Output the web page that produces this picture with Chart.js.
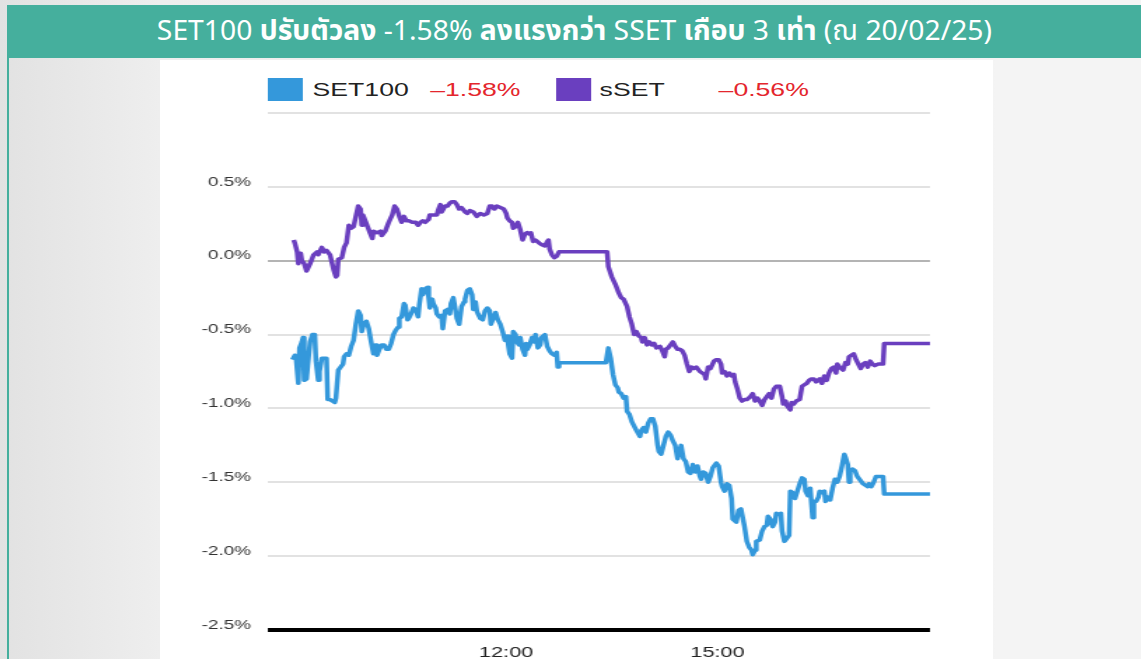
<!DOCTYPE html>
<html>
<head>
<meta charset="utf-8">
<script src="https://cdn.jsdelivr.net/npm/chart.js@4.4.1/dist/chart.umd.min.js"></script>
<style>
  html, body { margin: 0; padding: 0; }
  body {
    width: 1141px; height: 659px; overflow: hidden; position: relative;
    background: linear-gradient(to right, #e2e2e2 0px, #eeeeee 160px, #f4f4f4 1000px);
    font-family: "Liberation Sans", Arial, sans-serif;
  }
  #edge { position: absolute; left: 7px; top: 5px; width: 2px; height: 654px; background: #45af9d; }
  #title {
    position: absolute; left: 8px; top: 5px; width: 1133px; height: 53px;
    background: #45af9d; color: #fff; font-size: 28px; line-height: 53px;
    text-align: center; white-space: nowrap;
    font-family: "Noto Sans Thai", "Liberation Sans Narrow", "Noto Sans", sans-serif;
  }
  #title span { display: inline-block; transform: scaleX(1.01); }
  #panel {
    position: absolute; left: 160px; top: 60px; width: 595px; height: 599px;
    background: #fff; transform: scaleX(1.4); transform-origin: 0 0;
  }
  #chart { position: absolute; left: 0; top: 0; }
  .box { position: absolute; top: 18px; width: 25px; height: 23px; }
  .lbl { position: absolute; top: 21px; font-size: 19px; line-height: 18px; color: #222; white-space: nowrap; }
  .chg { color: #e4262d; }
</style>
</head>
<body>
<div id="edge"></div>
<div id="title"><span>SET100 <b>ปรับตัวลง</b> -1.58% <b>ลงแรงกว่า</b> SSET <b>เกือบ</b> 3 <b>เท่า</b> (ณ 20/02/25)</span></div>
<div id="panel">
  <div class="box" style="left:77px;background:#3498db"></div>
  <div class="lbl" style="left:109px">SET100</div>
  <div class="lbl chg" style="left:193px">–1.58%</div>
  <div class="box" style="left:283px;background:#6a3fbf"></div>
  <div class="lbl" style="left:314px">sSET</div>
  <div class="lbl chg" style="left:399px">–0.56%</div>
  <canvas id="chart" width="595" height="599"></canvas>
</div>
<script>
// x = minutes on the (compressed) session clock, y = % change
const timeTicks = [720, 900];

const setTime = [538, 540, 541, 543, 544, 546, 547, 548, 550, 551, 553, 555, 557, 558, 560, 561, 563, 567, 568, 570,
  572, 574, 575, 577, 579, 581, 582, 584, 586, 588, 590, 592, 594, 596, 597, 599, 600, 601, 603, 605,
  607, 609, 610, 612, 614, 616, 618, 620, 622, 624, 626, 628, 629, 631, 633, 634, 636, 637, 639, 641,
  643, 645, 646, 648, 649, 651, 653, 654, 655, 657, 658, 660, 661, 663, 665, 666, 668, 670, 672, 673,
  675, 677, 678, 680, 682, 684, 685, 687, 689, 691, 692, 694, 695, 696, 698, 700, 702, 704, 706, 707,
  709, 711, 713, 715, 717, 719, 721, 722, 723, 725, 726, 728, 729, 731, 732, 734, 736, 737, 738, 740,
  742, 744, 745, 747, 749, 750, 753, 755, 757, 759, 761, 763, 764, 765, 805, 807, 809, 811, 813, 815,
  816, 818, 820, 822, 823, 825, 827, 829, 831, 834, 835, 837, 839, 841, 843, 845, 847, 849, 850, 852,
  854, 856, 858, 860, 862, 864, 866, 867, 869, 871, 873, 875, 877, 879, 881, 883, 885, 886, 888, 890,
  892, 894, 896, 899, 901, 903, 904, 906, 908, 910, 912, 913, 916, 918, 920, 921, 923, 925, 927, 929,
  930, 932, 933, 936, 938, 940, 942, 943, 945, 947, 949, 950, 953, 954, 955, 957, 959, 961, 962, 964,
  966, 968, 970, 972, 974, 975, 977, 979, 981, 982, 984, 986, 987, 989, 991, 992, 994, 996, 998, 1000,
  1002, 1004, 1006, 1008, 1009, 1011, 1012, 1013, 1015, 1017, 1019, 1021, 1024, 1026, 1028, 1029, 1031, 1033, 1035, 1041,
  1042, 1081];
const setPct = [-0.67, -0.64, -0.65, -0.83, -0.59, -0.55, -0.52, -0.81, -0.80, -0.71, -0.55, -0.50, -0.50, -0.68, -0.81, -0.75, -0.66, -0.66, -0.94, -0.94,
  -0.95, -0.96, -0.93, -0.74, -0.72, -0.70, -0.65, -0.63, -0.64, -0.58, -0.54, -0.43, -0.34, -0.37, -0.48, -0.42, -0.43, -0.41, -0.46, -0.55,
  -0.63, -0.57, -0.64, -0.60, -0.57, -0.57, -0.60, -0.60, -0.56, -0.50, -0.47, -0.45, -0.39, -0.38, -0.29, -0.30, -0.40, -0.39, -0.36, -0.32,
  -0.33, -0.38, -0.30, -0.19, -0.23, -0.19, -0.18, -0.25, -0.32, -0.26, -0.29, -0.32, -0.36, -0.38, -0.37, -0.46, -0.34, -0.33, -0.36, -0.29,
  -0.25, -0.34, -0.39, -0.43, -0.31, -0.28, -0.26, -0.20, -0.19, -0.23, -0.33, -0.28, -0.34, -0.36, -0.39, -0.40, -0.34, -0.32, -0.34, -0.43,
  -0.39, -0.35, -0.40, -0.43, -0.48, -0.54, -0.51, -0.58, -0.63, -0.66, -0.48, -0.50, -0.55, -0.57, -0.52, -0.60, -0.64, -0.56, -0.60, -0.57,
  -0.52, -0.55, -0.50, -0.59, -0.57, -0.52, -0.50, -0.58, -0.61, -0.63, -0.64, -0.62, -0.72, -0.69, -0.69, -0.59, -0.66, -0.77, -0.84, -0.86,
  -0.89, -0.90, -0.93, -0.92, -1.02, -1.04, -1.09, -1.12, -1.15, -1.19, -1.15, -1.13, -1.16, -1.10, -1.07, -1.07, -1.12, -1.25, -1.29, -1.31,
  -1.25, -1.19, -1.16, -1.18, -1.22, -1.25, -1.34, -1.31, -1.25, -1.34, -1.36, -1.43, -1.44, -1.38, -1.43, -1.39, -1.46, -1.48, -1.43, -1.44,
  -1.50, -1.46, -1.40, -1.37, -1.39, -1.50, -1.53, -1.56, -1.51, -1.52, -1.61, -1.75, -1.77, -1.69, -1.68, -1.72, -1.80, -1.90, -1.94, -1.96,
  -1.99, -1.96, -1.90, -1.89, -1.83, -1.80, -1.79, -1.73, -1.75, -1.80, -1.77, -1.71, -1.72, -1.71, -1.83, -1.90, -1.88, -1.86, -1.56, -1.57,
  -1.61, -1.56, -1.51, -1.47, -1.48, -1.56, -1.59, -1.54, -1.74, -1.63, -1.63, -1.60, -1.56, -1.57, -1.56, -1.63, -1.60, -1.62, -1.54, -1.48,
  -1.50, -1.46, -1.39, -1.31, -1.33, -1.38, -1.50, -1.43, -1.41, -1.42, -1.46, -1.48, -1.51, -1.52, -1.53, -1.51, -1.53, -1.50, -1.46, -1.46,
  -1.58, -1.58];

const ssetTime = [539, 540, 542, 543, 545, 546, 548, 550, 553, 556, 559, 560, 563, 565, 567, 570, 573, 575, 576, 577,
  580, 582, 584, 586, 588, 590, 592, 594, 596, 597, 598, 600, 602, 604, 606, 607, 610, 613, 614, 617,
  620, 623, 625, 627, 629, 631, 633, 635, 637, 640, 643, 645, 647, 649, 651, 654, 655, 658, 661, 662,
  664, 665, 668, 670, 672, 674, 676, 678, 680, 682, 685, 687, 689, 692, 695, 698, 701, 704, 706, 708,
  710, 712, 715, 718, 720, 721, 723, 725, 726, 728, 730, 732, 734, 736, 738, 740, 741, 743, 745, 748,
  750, 753, 755, 756, 757, 759, 761, 763, 765, 806, 807, 810, 813, 816, 818, 820, 823, 825, 827, 829,
  831, 833, 835, 836, 838, 840, 842, 844, 846, 848, 851, 853, 855, 856, 858, 860, 862, 864, 866, 868,
  870, 872, 874, 876, 878, 880, 882, 885, 887, 889, 890, 892, 894, 897, 899, 901, 903, 904, 906, 908,
  910, 912, 914, 915, 917, 919, 921, 923, 925, 928, 930, 932, 934, 936, 938, 940, 942, 944, 946, 948,
  950, 953, 955, 956, 958, 959, 962, 963, 965, 967, 970, 972, 974, 976, 978, 980, 982, 984, 987, 989,
  991, 993, 995, 997, 999, 1001, 1002, 1004, 1007, 1009, 1011, 1012, 1014, 1016, 1018, 1020, 1022, 1024, 1026, 1028,
  1030, 1032, 1034, 1037, 1041, 1042, 1081];
const ssetPct = [0.14, 0.12, 0.06, -0.02, 0.05, 0.00, -0.02, -0.07, -0.02, 0.04, 0.06, 0.04, 0.09, 0.06, 0.07, 0.04, -0.06, -0.11, -0.10, 0.01,
  0.02, 0.09, 0.12, 0.24, 0.22, 0.23, 0.30, 0.37, 0.35, 0.24, 0.31, 0.27, 0.23, 0.19, 0.15, 0.20, 0.19, 0.20, 0.17, 0.20,
  0.26, 0.31, 0.37, 0.35, 0.30, 0.26, 0.30, 0.27, 0.27, 0.26, 0.26, 0.24, 0.26, 0.27, 0.26, 0.28, 0.31, 0.31, 0.31, 0.34,
  0.38, 0.33, 0.37, 0.37, 0.39, 0.40, 0.40, 0.38, 0.35, 0.36, 0.33, 0.32, 0.34, 0.33, 0.30, 0.32, 0.31, 0.32, 0.37, 0.37,
  0.35, 0.37, 0.36, 0.35, 0.32, 0.29, 0.27, 0.26, 0.22, 0.23, 0.26, 0.21, 0.14, 0.18, 0.19, 0.18, 0.19, 0.13, 0.14, 0.12,
  0.11, 0.10, 0.13, 0.14, 0.08, 0.04, 0.02, 0.03, 0.06, 0.06, -0.04, -0.11, -0.16, -0.22, -0.25, -0.26, -0.31, -0.38, -0.43, -0.50,
  -0.48, -0.51, -0.52, -0.55, -0.52, -0.57, -0.55, -0.57, -0.56, -0.59, -0.58, -0.61, -0.65, -0.60, -0.59, -0.57, -0.55, -0.58, -0.60, -0.60,
  -0.61, -0.64, -0.70, -0.75, -0.72, -0.73, -0.72, -0.75, -0.76, -0.77, -0.80, -0.72, -0.73, -0.68, -0.67, -0.67, -0.70, -0.76, -0.75, -0.78,
  -0.76, -0.78, -0.77, -0.82, -0.87, -0.93, -0.95, -0.94, -0.94, -0.92, -0.90, -0.95, -0.93, -0.95, -0.98, -0.94, -0.92, -0.90, -0.93, -0.87,
  -0.85, -0.85, -0.92, -0.97, -0.95, -0.98, -1.01, -0.96, -0.97, -0.95, -0.94, -0.85, -0.84, -0.83, -0.81, -0.80, -0.80, -0.82, -0.80, -0.83,
  -0.78, -0.81, -0.76, -0.73, -0.72, -0.76, -0.70, -0.72, -0.74, -0.69, -0.70, -0.65, -0.64, -0.63, -0.67, -0.70, -0.73, -0.70, -0.69, -0.72,
  -0.68, -0.70, -0.71, -0.70, -0.70, -0.56, -0.56];

function toPoints(times, values) {
  return times.map((t, i) => ({ x: t, y: values[i] }));
}

function hhmm(v) {
  const h = Math.floor(v / 60), m = v % 60;
  return h + ':' + String(m).padStart(2, '0');
}

const ctx = document.getElementById('chart').getContext('2d');
new Chart(ctx, {
  type: 'line',
  data: {
    datasets: [
      {
        label: 'SET100',
        data: toPoints(setTime, setPct),
        borderColor: '#3498db',
        borderWidth: 3.5,
        pointRadius: 0,
        tension: 0,
        borderJoinStyle: 'round'
      },
      {
        label: 'sSET',
        data: toPoints(ssetTime, ssetPct),
        borderColor: '#6a3fbf',
        borderWidth: 3.5,
        pointRadius: 0,
        tension: 0,
        borderJoinStyle: 'round'
      }
    ]
  },
  options: {
    responsive: false,
    animation: false,
    layout: { padding: { left: 0, right: 45, top: 53, bottom: 0 } },
    plugins: { legend: { display: false }, tooltip: { enabled: false } },
    scales: {
      x: {
        type: 'linear',
        min: 517,
        max: 1081,
        afterBuildTicks: s => { s.ticks = timeTicks.map(v => ({ value: v })); },
        afterFit: s => { s.height = 29; },
        grid: { display: false },
        border: { display: false },
        ticks: {
          padding: 5,
          color: '#222',
          font: { family: '"Liberation Sans", Arial, sans-serif', size: 15.5 },
          maxRotation: 0,
          callback: v => hhmm(v)
        }
      },
      y: {
        min: -2.5,
        max: 1.0,
        afterFit: s => { s.width = 77; },
        border: { display: false },
        grid: {
          drawTicks: false,
          color: c => c.tick.value === 0 ? '#b4b4b4' : (c.tick.value === -2.5 ? '#000' : '#e2e2e2'),
          lineWidth: c => c.tick.value === -2.5 ? 4 : 2
        },
        ticks: {
          stepSize: 0.5,
          padding: 12,
          labelOffset: -5,
          color: '#333',
          font: { family: '"Liberation Sans", Arial, sans-serif', size: 13.5 },
          callback: v => v >= 1 ? '' : v.toFixed(1) + '%'
        }
      }
    }
  }
});
</script>
</body>
</html>
